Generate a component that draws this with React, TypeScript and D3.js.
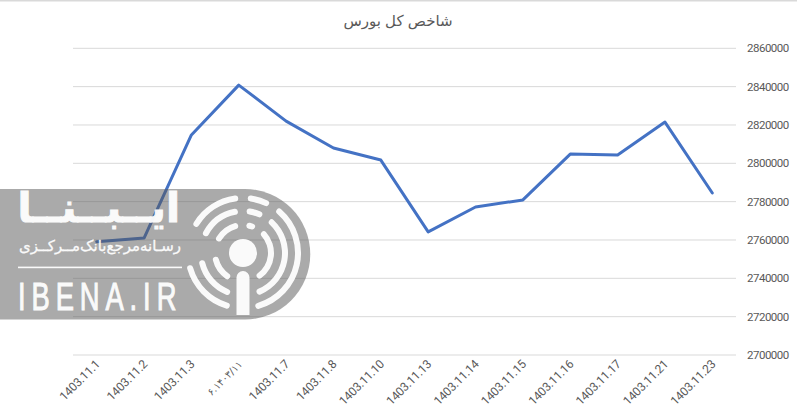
import React from 'react';
import * as d3 from 'd3';

const title = 'شاخص کل بورس';
const categories = [
  '1403.11.1', '1403.11.2', '1403.11.3', '۶.۱۴۰۳/۱۱', '1403.11.7', '1403.11.8', '1403.11.10',
  '1403.11.13', '1403.11.14', '1403.11.15', '1403.11.16', '1403.11.17', '1403.11.21', '1403.11.23',
];
const values = [
  2759100, 2761000, 2814800, 2840800, 2822000, 2808000, 2801700,
  2764200, 2777200, 2780900, 2804800, 2804300, 2821500, 2784500,
];
const yTicks = [2700000, 2720000, 2740000, 2760000, 2780000, 2800000, 2820000, 2840000, 2860000];

// logo rings: radius, then segments as [start, end] in degrees clockwise from top
const logoRings: [number, [number, number][]][] = [
  [55, [[-61, -5], [5, 28], [38, 167], [-166, -103]]],
  [42, [[-66, -7], [5, 27], [39, 161], [-162, -100]]],
  [28, [[-65, -10], [7, 25], [42, 150], [-152, -98]]],
];

const width = 797;
const height = 417;
const font = '"Liberation Sans", Arial, sans-serif';
const uiFont = 'Roboto, "Open Sans", sans-serif';

export default function App() {
  const x = d3.scaleBand().domain(categories).range([73, 736]);
  const y = d3.scaleLinear().domain([2700000, 2860000]).range([355, 48.3]);
  const cx = (c: string) => x(c)! + x.bandwidth() / 2;

  const line = d3.line<number>()
    .x((_, i) => cx(categories[i]))
    .y(d => y(d));

  const arc = d3.arc<any>().cornerRadius(3);
  const rad = Math.PI / 180;

  return (
    <svg width={width} height={height} style={{ position: 'fixed', left: 0, top: 0, background: '#fff' }}>
      <line x1={0} x2={width} y1={0.5} y2={0.5} stroke="#d9d9d9" strokeWidth={2} />
      <text x={398} y={26} textAnchor="middle" direction="rtl" fontSize={15} fill="#595959" fontFamily={font + ', "DejaVu Sans"'}>
        {title}
      </text>

      {yTicks.map(t => (
        <g key={t}>
          <line x1={73} x2={736} y1={y(t)} y2={y(t)} stroke="#d9d9d9" strokeWidth={1} />
          <text x={747} y={y(t) + 4} fontSize={11.5} letterSpacing={-0.5} fill="#595959" fontFamily={uiFont}>{t}</text>
        </g>
      ))}

      {categories.map(c => (
        <text
          key={c}
          transform={`translate(${cx(c) + 4},${365}) rotate(-45)`}
          textAnchor="end"
          fontSize={c.startsWith('1403') ? 12 : 10}
          letterSpacing={c.startsWith('1403') ? -0.25 : 1.6}
          fill="#595959"
          fontFamily={c.startsWith('1403') ? uiFont : '"DejaVu Sans", sans-serif'}
        >
          {c}
        </text>
      ))}

      <path d={line(values)!} fill="none" stroke="#4472c4" strokeWidth={3} strokeLinejoin="round" strokeLinecap="round" />

      {/* watermark */}
      <g>
        <path d="M0,189 H245 A65,65 0 0 1 245,319.5 H0 Z" fill="#555555" fillOpacity={0.5} />
        <g fill="#fff" fontFamily='"DejaVu Sans", sans-serif' opacity={0.95}>
          <text x={180} y={222} direction="rtl" fontSize={41} fontWeight={700} stroke="#fff" strokeWidth={1} textAnchor="start">ایــبــنــا</text>
          <text x={181} y={251} direction="rtl" fontSize={15} stroke="#fff" strokeWidth={0.3} textAnchor="start">رسـانه‌مرجع‌بانک‌مــرکــزی</text>
          <rect x={18} y={266.6} width={164} height={1.6} />
          <g transform="translate(18,310) scale(0.72,1)">
            <text fontSize={38} fontFamily={font} stroke="#fff" strokeWidth={1} letterSpacing={8} textLength={228} lengthAdjust="spacing">IBENA.IR</text>
          </g>
          <g transform="translate(243,253)">
            <circle r={14} />
            {logoRings.map(([r, segs]) =>
              segs.map(([a, b]) => (
                <path
                  key={`${r}-${a}`}
                  d={arc({ innerRadius: r - 3, outerRadius: r + 3, startAngle: a * rad, endAngle: b * rad })!}
                />
              )),
            )}
            <path d="M-6.5,62 V24.5 A6.5,6.5 0 0 1 6.5,24.5 V62 Z" />
          </g>
        </g>
      </g>
    </svg>
  );
}
